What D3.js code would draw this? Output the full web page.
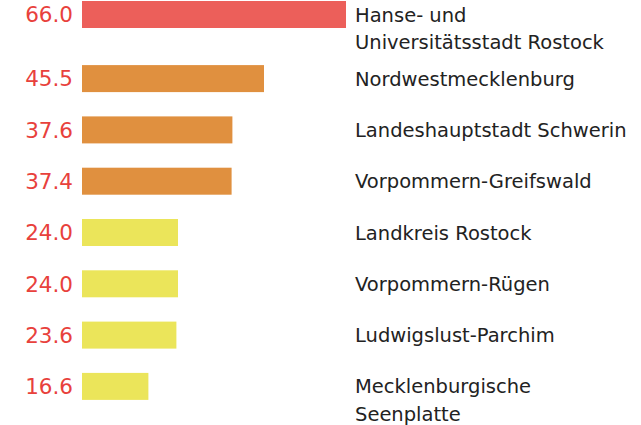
<!DOCTYPE html>
<html>
<head>
<meta charset="utf-8">
<script src="https://cdn.jsdelivr.net/npm/d3@7"></script>
<style>
  html, body { margin: 0; padding: 0; background: #fff; }
  svg text { font-family: "DejaVu Sans", Verdana, sans-serif; }
</style>
</head>
<body>
<svg id="chart" width="641" height="425"></svg>
<script>
//  data
const districts = [
  ["Hanse- und", "Universitätsstadt Rostock"],
  ["Nordwestmecklenburg"],
  ["Landeshauptstadt Schwerin"],
  ["Vorpommern-Greifswald"],
  ["Landkreis Rostock"],
  ["Vorpommern-Rügen"],
  ["Ludwigslust-Parchim"],
  ["Mecklenburgische", "Seenplatte"]
];
const values = [66.0, 45.5, 37.6, 37.4, 24.0, 24.0, 23.6, 16.6];
const levels = ["high", "mid", "mid", "mid", "low", "low", "low", "low"];

//  sizing
const svg = d3.select("#chart");
const barLeft = 82, barRight = 346, barH = 27;
const rowH = 51.3, extraLine = 12.8, lineGap = 27.5;
const topPad = 1;

//  row positions: rows with a wrapped label are a bit taller
let rows = districts.map((lines, i) => ({ lines: lines, value: values[i], level: levels[i] }));
let y0 = topPad;
rows.forEach(r => {
  r.y = y0;
  y0 += rowH + (r.lines.length - 1) * extraLine;
});

const x = d3.scaleLinear()
  .domain([0, d3.max(values)])
  .range([barLeft, barRight]);

const color = d3.scaleOrdinal()
  .domain(["high", "mid", "low"])
  .range(["#ec5f5a", "#e0903f", "#ebe55a"]);

let row = svg.append("g").selectAll(".row")
  .data(rows)
  .enter().append("g")
    .attr("class", "row")
    .attr("transform", d => "translate(0," + d.y + ")");

row.append("rect")
  .attr("x", x(0))
  .attr("y", 0)
  .attr("width", d => x(d.value) - x(0))
  .attr("height", barH)
  .attr("fill", d => color(d.level));

row.append("text")
  .attr("x", x(0) - 9)
  .attr("y", barH / 2)
  .attr("dy", "0.36em")
  .attr("text-anchor", "end")
  .attr("fill", "#e8413c")
  .style("font-size", "21.5px")
  .text(d => d.value.toFixed(1));

row.append("text")
  .attr("x", 355)
  .attr("y", barH / 2)
  .attr("fill", "#222")
  .style("font-size", "19.5px")
  .selectAll("tspan")
  .data(d => d.lines)
  .enter().append("tspan")
    .attr("x", 355)
    .attr("dy", (d, i) => i === 0 ? "0.36em" : lineGap)
    .text(d => d);
</script>
</body>
</html>
